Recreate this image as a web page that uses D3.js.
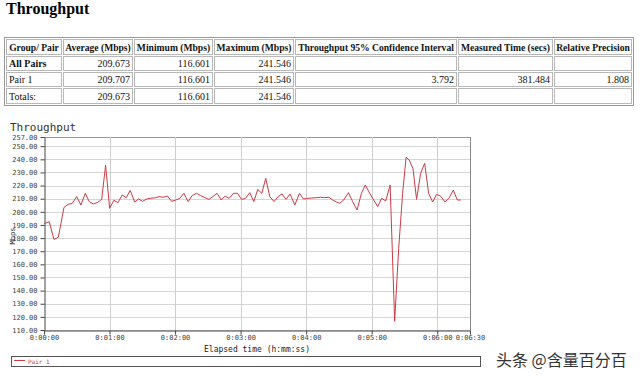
<!DOCTYPE html>
<html><head><meta charset="utf-8">
<script src="https://cdn.jsdelivr.net/npm/d3@7"></script>
<style>
html,body{margin:0;padding:0;background:#fff;}
svg{display:block;}
</style></head>
<body>
<svg id="c" width="640" height="380"></svg>
<script>
// ---- data ----
const tableHeaders = ["Group/ Pair","Average (Mbps)","Minimum (Mbps)","Maximum (Mbps)","Throughput 95% Confidence Interval","Measured Time (secs)","Relative Precision"];
const rowLabels = ["All Pairs","Pair 1","Totals:"];
const rowAverage = ["209.673","209.707","209.673"];
const rowMinimum = ["116.601","116.601","116.601"];
const rowMaximum = ["241.546","241.546","241.546"];
const rowCI = ["","3.792",""];
const rowTime = ["","381.484",""];
const rowPrecision = ["","1.808",""];

const seriesName = "Pair 1";
const times = [0,4.8,9.1,13.1,18.3,22.2,25.9,29.9,33.8,37.8,41.4,45.1,48.7,52.8,56.4,60.1,64.0,67.7,71.6,75.3,78.9,83.0,86.6,90.3,93.9,97.9,101.5,105.5,109.1,113.1,116.8,120.7,124.4,128.0,132.0,135.6,139.7,143.3,147.3,150.9,154.6,158.5,162.2,165.8,169.5,173.5,177.2,180.8,184.5,188.4,192.1,195.7,199.4,203.0,206.7,210.6,214.3,217.9,221.6,225.3,229.6,233.9,237.5,241.5,245.1,249.4,253.1,257.0,260.7,264.3,267.5,270.7,274.4,278.7,282.6,286.6,290.6,294.2,298.2,301.8,305.5,309.1,312.8,316.9,321.0,324.7,328.3,331.5,334.3,337.8,341.1,344.8,348.5,352.1,355.8,359.4,363.1,367.0,370.7,374.7,378.4,381.5];
const values = [191,192.5,179,180.6,203.4,205.7,206.5,211.6,205.2,214.1,207.8,206,207,209.5,235.5,202.7,208.8,207,212.8,210.8,216.3,207.5,209.8,208,209.8,210.4,210.6,211.6,211.1,212,208,209,210.3,214.1,207.8,212.4,214.1,212.4,210.8,209.5,211.6,214.1,209,212,210.3,214.1,214.1,209.5,210.3,214.6,207.8,217.1,214.1,225.5,211.6,207.8,211.6,213.6,209.5,213.6,205.2,214.1,209.8,210.3,210.5,210.8,211.1,210.8,211.1,209,207.5,206.5,209,214.6,207.8,201.4,214.1,220.4,214.1,209,204,210.3,208.3,220.4,116.601,172,214,241.546,239.5,233,209.5,229.3,237,214.1,207.5,213.3,212,207.5,210.3,216.6,209,209];
const yTicks = [110,120,130,140,150,160,170,180,190,200,210,220,230,240,250,257];
const xTicks = [0,60,120,180,240,300,360,390];

const svg = d3.select("#c");

// ---- page title ----
svg.append("text").attr("x",6).attr("y",14)
  .attr("font-family","Liberation Serif, Times New Roman, serif")
  .attr("font-weight","bold").attr("font-size",16).attr("fill","#000")
  .text("Throughput");

// ---- table ----
const colEdges = [6,63,134,214,295,458,554,633];
const rowEdges = [39,56,72,88,105];
const tbl = svg.append("g");
tbl.append("rect").attr("x",4.5).attr("y",37.5).attr("width",629).attr("height",68)
  .attr("fill","none").attr("stroke","#9a9a9a");
const rows = [tableHeaders].concat(rowLabels.map((l,i)=>[l,rowAverage[i],rowMinimum[i],rowMaximum[i],rowCI[i],rowTime[i],rowPrecision[i]]));
rows.forEach((r,ri)=>{
  r.forEach((txt,ci)=>{
    const x0 = colEdges[ci], x1 = colEdges[ci+1]-1;
    const y0 = rowEdges[ri], y1 = rowEdges[ri+1]-1;
    tbl.append("rect").attr("x",x0+0.5).attr("y",y0+0.5).attr("width",x1-x0-1).attr("height",y1-y0-1)
      .attr("fill","none").attr("stroke","#b8b8b8");
    const header = ri===0, bold = header || (ri===1 && ci===0);
    const left = header ? false : ci===0;
    const t = tbl.append("text")
      .attr("font-family","Liberation Serif, Times New Roman, serif")
      .attr("font-size", header?9.6:10).attr("font-weight", bold?"bold":"normal")
      .attr("fill","#111")
      .attr("y", y1-4.5)
      .text(txt);
    if (header) t.attr("x",(x0+x1)/2).attr("text-anchor","middle");
    else if (left) t.attr("x",x0+3);
    else t.attr("x",x1-3).attr("text-anchor","end");
  });
});

// ---- chart ----
const x = d3.scaleLinear().domain([0,390]).range([44,470]);
const y = d3.scaleLinear().domain([110,257]).range([330,137]);
const mono = "DejaVu Sans Mono, Liberation Mono, monospace";

svg.append("text").attr("x",10).attr("y",131).attr("font-family",mono)
  .attr("font-size",11).attr("fill","#333").text("Throughput");

const g = svg.append("g");
// grid
g.selectAll(".hg").data(yTicks).join("line")
  .attr("x1",x(0)).attr("x2",x(390)).attr("y1",d=>Math.round(y(d))+0.5).attr("y2",d=>Math.round(y(d))+0.5)
  .attr("stroke",d=>d===257?"#999":"#d6d6d6");
g.selectAll(".vg").data(xTicks.slice(1)).join("line")
  .attr("y1",y(110)).attr("y2",y(257)).attr("x1",d=>Math.round(x(d))+0.5).attr("x2",d=>Math.round(x(d))+0.5)
  .attr("stroke",d=>d===390?"#888":"#cfcfcf");

// axes
const fmt = s => { const h=Math.floor(s/3600), m=Math.floor((s%3600)/60), ss=s%60; return h+":"+String(m).padStart(2,"0")+":"+String(ss).padStart(2,"0"); };
const yAxis = g.append("g").attr("transform","translate("+(Math.round(x(0))+0.5)+",0)")
  .call(d3.axisLeft(y).tickValues(yTicks).tickFormat(d=>d.toFixed(2)).tickSize(4).tickSizeOuter(0));
const xAxis = g.append("g").attr("transform","translate(0,"+(Math.round(y(110))+0.5)+")")
  .call(d3.axisBottom(x).tickValues(xTicks).tickFormat(fmt).tickSize(4).tickSizeOuter(0));
[yAxis,xAxis].forEach(a=>{
  a.select(".domain").attr("stroke","#444");
  a.selectAll(".tick line").attr("stroke","#444");
  a.selectAll("text").attr("font-family",mono).attr("font-size",7).attr("fill","#444");
});
yAxis.selectAll("text").attr("x",-7);
xAxis.selectAll("text").attr("y",5);

// line
g.append("path").datum(times.map((t,i)=>[t,values[i]]))
  .attr("fill","none").attr("stroke","#cc3b47").attr("stroke-width",1)
  .attr("d", d3.line().x(d=>x(d[0])).y(d=>y(d[1])));

// axis titles
svg.append("text").attr("x",(x(0)+x(390))/2).attr("y",352).attr("text-anchor","middle")
  .attr("font-family",mono).attr("font-size",8).attr("fill","#222").text("Elapsed time (h:mm:ss)");
svg.append("text").attr("transform","translate(15,236) rotate(-90)").attr("text-anchor","middle")
  .attr("font-family",mono).attr("font-size",7).attr("fill","#222").text("Mbps");

// legend
svg.append("rect").attr("x",11.5).attr("y",356.5).attr("width",469).attr("height",10)
  .attr("fill","#fff").attr("stroke","#555");
svg.append("line").attr("x1",14).attr("x2",25).attr("y1",360.5).attr("y2",360.5).attr("stroke","#cc3b47");
svg.append("text").attr("x",28).attr("y",363.5).attr("font-family",mono).attr("font-size",6)
  .attr("fill","#cc3b47").text(seriesName);

// watermark
svg.append("text").attr("x",496).attr("y",366).attr("font-family","Noto Sans CJK SC, sans-serif")
  .attr("font-size",16).attr("fill","#333").attr("stroke","#fff").attr("stroke-width",0.6)
  .attr("paint-order","stroke").text("头条 @含量百分百");
</script>
</body></html>
